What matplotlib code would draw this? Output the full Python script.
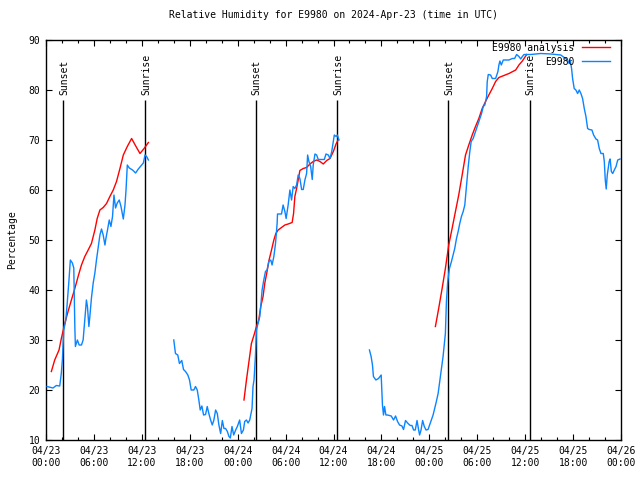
import numpy as np
import matplotlib
matplotlib.use("Agg")
import matplotlib.pyplot as plt
from matplotlib.ticker import MultipleLocator

nan = np.nan

# Observations (hours since 2024-04-23 00:00 UTC, RH %)
obs_hours = [
    0.13, 0.88, 1.29, 1.72, 1.92, 2.05, 2.22, 2.48, 2.64, 2.85, 3.05, 3.30, 3.48, 3.61, 3.68, 3.93,
    4.15, 4.44, 4.65, 4.86, 5.06, 5.19, 5.37, 5.49, 5.69, 5.91, 6.12, 6.32, 6.53, 6.75, 6.95, 7.16,
    7.38, 7.50, 7.70, 7.92, 8.13, 8.33, 8.51, 8.71, 8.92, 9.17, 9.39, 9.68, 9.89, 10.02, 10.18, 10.43,
    10.84, 11.22, 11.56, 11.98, 12.19, 12.40, 12.60, 12.82,
    14.0,
    16.00, 16.21, 16.50, 16.71, 17.00, 17.22, 17.47, 17.76, 17.97, 18.18, 18.51, 18.72, 18.94, 19.14,
    19.31, 19.52, 19.73, 19.98, 20.19, 20.39, 20.61, 20.82, 21.02, 21.24, 21.45, 21.65, 21.87, 22.08,
    22.28, 22.49, 22.71, 22.91, 23.08, 23.29, 23.50, 23.75, 23.96, 24.25, 24.47, 24.72, 24.88, 25.10,
    25.30, 25.51, 25.72, 25.80, 25.92, 26.05, 26.22, 26.35, 26.55, 26.77, 26.89, 27.06, 27.27, 27.48,
    27.68, 27.90, 28.15, 28.31, 28.53, 28.74, 28.94, 28.99, 29.49, 29.69, 29.91, 30.07, 30.32, 30.54,
    30.75, 30.95, 31.16, 31.38, 31.58, 31.79, 32.01, 32.21, 32.42, 32.63, 32.76, 32.92, 33.14, 33.34,
    33.46, 33.68, 33.89, 34.09, 34.85, 35.06, 35.35, 35.56, 35.78, 35.98, 36.10, 36.32, 36.48, 36.69,
    38.5,
    40.50, 40.71, 40.88, 41.00, 41.31, 41.63, 41.97, 42.13, 42.26, 42.39, 42.56, 42.76, 43.23, 43.52,
    43.77, 44.02, 44.27, 44.57, 44.77, 45.02, 45.33, 45.61, 45.83, 46.03, 46.24, 46.46, 46.66, 46.78,
    46.96, 47.16, 47.37, 47.59, 47.84, 48.04, 48.25, 48.47, 48.67, 48.88, 49.10, 49.30, 49.51, 49.72,
    49.89, 50.01, 50.14, 50.30, 50.52, 50.77, 50.98, 51.18, 51.40, 51.61, 51.81, 52.02, 52.24, 52.44,
    52.65, 52.87, 53.07, 53.24, 53.49, 53.70, 53.91, 54.12, 54.32, 54.54, 54.75, 54.95, 55.17, 55.25,
    55.38, 55.67, 55.88, 56.30, 56.59, 56.71, 56.84, 57.01, 57.26, 57.97, 58.39, 58.68, 58.93, 59.22,
    59.44, 59.65, 59.85, 60.69, 61.95, 63.21, 64.46, 65.31, 65.51, 65.64, 65.81, 65.94, 66.14, 66.35,
    66.57, 66.77, 66.98, 67.19, 67.40, 67.61, 67.82, 68.02, 68.36, 68.57, 68.86, 69.07, 69.28, 69.49,
    69.78, 69.91, 70.03, 70.15, 70.28, 70.40, 70.52, 70.64, 70.79, 70.96, 71.16, 71.38, 71.59, 71.88,
]
obs_rh = [
    20.7, 20.4, 20.9, 20.8, 23.4, 26.0, 32.0, 34.0, 37.0, 41.4, 46.0, 45.4, 44.4, 32.7, 28.7, 30.0,
    29.0, 29.0, 30.0, 34.0, 38.0, 36.7, 32.7, 34.7, 38.4, 41.4, 43.4, 46.0, 48.4, 51.0, 52.2, 51.0,
    49.0, 50.3, 52.0, 54.0, 52.7, 54.7, 59.0, 56.4, 57.4, 58.0, 56.7, 54.2, 57.0, 60.0, 65.0, 64.4,
    64.0, 63.4, 64.2, 65.0, 65.4, 67.0, 66.7, 66.0,
    nan,
    30.0, 27.3, 27.0, 25.3, 25.9, 24.1, 23.7, 23.0, 22.0, 20.0, 20.0, 20.7, 20.0, 18.0,
    16.0, 16.8, 15.0, 15.1, 16.7, 15.3, 14.0, 13.0, 14.0, 16.0, 15.3, 13.0, 11.3, 13.9,
    12.3, 12.3, 11.7, 10.7, 10.4, 12.7, 11.0, 12.0, 12.7, 14.0, 11.3, 12.0, 13.7, 14.0,
    13.4, 14.0, 15.7, 16.3, 20.7, 22.0, 26.7, 32.0, 33.3, 34.7, 36.7, 40.0, 42.0, 43.7,
    44.0, 45.7, 46.0, 45.0, 46.7, 49.3, 53.3, 55.2, 55.2, 57.0, 55.7, 54.3, 57.0, 60.0,
    58.0, 60.7, 60.3, 61.0, 63.0, 62.3, 60.1, 60.1, 62.0, 63.3, 67.0, 65.7, 64.7, 62.1,
    65.0, 67.2, 67.0, 66.1, 66.1, 67.2, 67.0, 66.3, 67.7, 69.7, 71.0, 70.7, 71.0, 70.0,
    nan,
    28.0, 26.7, 25.0, 22.7, 22.0, 22.3, 23.0, 17.0, 15.0, 16.7, 15.0, 15.0, 14.8, 14.0,
    14.8, 13.7, 13.0, 12.8, 12.1, 13.9, 13.3, 12.9, 12.9, 12.0, 12.0, 13.9, 12.0, 11.0,
    12.0, 13.9, 12.7, 12.0, 12.1, 13.0, 14.0, 15.0, 16.3, 17.7, 19.3, 21.7, 24.3, 26.7,
    29.3, 31.3, 37.7, 41.7, 44.3, 45.7, 47.0, 48.3, 50.3, 51.7, 53.3, 54.7, 55.7, 57.0,
    60.7, 64.7, 67.7, 69.7, 70.3, 71.3, 72.3, 73.3, 74.3, 75.3, 76.7, 77.0, 78.7, 81.7,
    83.1, 83.0, 82.3, 82.3, 83.7, 85.0, 85.8, 85.0, 86.0, 86.0, 86.3, 86.3, 87.1, 86.7,
    86.2, 86.7, 87.1, 87.1, 87.3, 87.2, 87.0, 86.0, 85.3, 86.0, 84.3, 82.3, 80.3, 80.0,
    79.3, 80.0, 79.3, 78.3, 76.3, 74.7, 72.3, 72.1, 72.0, 71.0, 70.2, 70.0, 68.3, 67.3,
    67.3, 65.7, 62.0, 60.2, 63.0, 64.3, 65.7, 66.2, 63.7, 63.3, 64.0, 64.7, 66.0, 66.2,
]

# Analysis
ana_hours = [
    0.67, 1.09, 1.63, 1.92, 2.35, 2.76, 3.18, 3.61, 4.02, 4.44, 4.86, 5.28, 5.69, 6.12, 6.41, 6.75,
    7.16, 7.58, 8.00, 8.42, 8.83, 9.26, 9.68, 10.18, 10.72, 11.27, 11.77, 12.28, 12.82,
    18.0,
    24.79, 25.10, 25.38, 25.72, 26.05, 26.35, 26.64, 26.89, 27.18, 27.39, 27.68, 27.93, 28.24, 28.53,
    28.78, 29.07, 29.49, 29.91, 30.32, 30.82, 31.00, 31.16, 31.38, 31.58, 31.79, 32.21, 32.63, 33.05,
    33.46, 33.89, 34.31, 34.72, 35.15, 35.56, 35.98, 36.32, 36.61,
    42.0,
    48.76, 49.17, 49.60, 50.01, 50.43, 50.85, 51.27, 51.68, 52.11, 52.53, 52.94, 53.37, 53.78, 54.20,
    54.62, 55.04, 55.45, 55.88, 56.30, 56.71, 57.34, 57.97, 58.81, 59.22, 59.65, 59.94, 60.19,
]
ana_rh = [
    23.7, 26.0, 28.0, 30.3, 33.3, 35.7, 38.0, 40.3, 42.7, 45.0, 46.7, 48.0, 49.3, 52.0, 54.3, 56.0,
    56.5, 57.3, 58.7, 60.0, 61.7, 64.3, 67.0, 68.7, 70.3, 68.7, 67.3, 68.3, 69.5,
    nan,
    18.0, 22.0, 25.3, 29.3, 31.0, 32.7, 34.0, 36.7, 38.7, 41.3, 43.7, 46.0, 48.0, 50.0,
    51.3, 52.0, 52.5, 53.0, 53.2, 53.5, 55.3, 58.7, 60.3, 62.0, 63.9, 64.3, 64.5, 65.2,
    65.7, 66.0, 65.7, 65.2, 65.9, 66.3, 67.7, 69.2, 70.1,
    nan,
    32.7, 36.3, 40.3, 44.3, 49.0, 52.3, 55.7, 59.0, 63.0, 67.0, 69.0, 71.0, 72.7, 74.3,
    76.3, 77.7, 79.0, 80.3, 81.7, 82.5, 82.9, 83.3, 84.0, 85.0, 85.8, 86.5, 87.1,
]

sunset_hours = [2.15, 26.3, 50.35]
sunrise_hours = [12.45, 36.5, 60.6]

xtick_hours = [0, 6, 12, 18, 24, 30, 36, 42, 48, 54, 60, 66, 72]
xtick_labels = ["04/23\n00:00", "04/23\n06:00", "04/23\n12:00", "04/23\n18:00",
                "04/24\n00:00", "04/24\n06:00", "04/24\n12:00", "04/24\n18:00",
                "04/25\n00:00", "04/25\n06:00", "04/25\n12:00", "04/25\n18:00",
                "04/26\n00:00"]
yticks = [10, 20, 30, 40, 50, 60, 70, 80, 90]

FONT = "DejaVu Sans Mono"
FS = 7
plt.rcParams["font.family"] = FONT

fig = plt.figure(figsize=(6.4, 4.8), dpi=100)
ax = fig.add_axes([46 / 640, 40 / 480, 575 / 640, 400 / 480])

line_top = 78
for h in sunset_hours:
    ax.vlines(h, 10, line_top, color="black", lw=1.0, zorder=1)
    ax.text(h + 0.1, line_top + 1, "Sunset", rotation=90, ha="center", va="bottom",
            fontsize=FS, family=FONT)
for h in sunrise_hours:
    ax.vlines(h, 10, line_top, color="black", lw=1.0, zorder=1)
    ax.text(h + 0.1, line_top + 1, "Sunrise", rotation=90, ha="center", va="bottom",
            fontsize=FS, family=FONT)

ax.plot(ana_hours, ana_rh, color="#ff0000", lw=1.0, label="E9980 analysis", zorder=2)
ax.plot(obs_hours, obs_rh, color="#0a84ff", lw=1.0, label="E9980", zorder=3)

ax.set_xlim(0, 72)
ax.set_ylim(10, 90)
ax.set_xticks(xtick_hours)
ax.set_xticklabels(xtick_labels, fontsize=FS, family=FONT, linespacing=1.35)
ax.xaxis.set_minor_locator(MultipleLocator(2))
ax.set_yticks(yticks)
ax.set_yticklabels([str(v) for v in yticks], fontsize=FS, family=FONT)
ax.tick_params(axis="both", which="major", direction="in", length=4.5, width=0.8,
               top=True, right=True, pad=4)
ax.tick_params(axis="x", which="minor", direction="in", length=2.5, width=0.8,
               top=True, bottom=True)
for s in ax.spines.values():
    s.set_linewidth(1.0)

ax.set_ylabel("Percentage", fontsize=FS, family=FONT, labelpad=8)
ax.set_title("Relative Humidity for E9980 on 2024-Apr-23 (time in UTC)",
             fontsize=FS, family=FONT, pad=16)

leg = ax.legend(loc="upper right", bbox_to_anchor=(0.981, 0.993), frameon=False,
                markerfirst=False, handlelength=2.9, handletextpad=0.8,
                borderpad=0, borderaxespad=0, labelspacing=0.4, prop={"family": FONT, "size": FS})

fig.savefig("out.png", dpi=100)
